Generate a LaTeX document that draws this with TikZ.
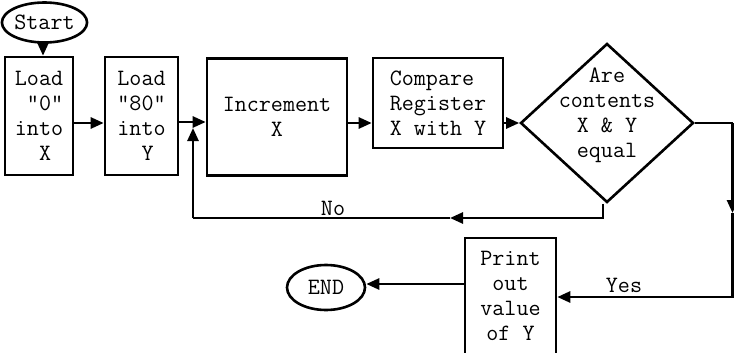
\documentclass[tikz,border=0pt]{standalone}
\usetikzlibrary{shapes.geometric,arrows.meta}

\tikzset{
  flow/.style={line width=2.6pt, -{Triangle[length=13pt,width=11pt]}},
  plain/.style={line width=2.6pt},
  box/.style={draw, line width=2.6pt, inner sep=0pt, font=\ttfamily\fontsize{23.4}{25}\selectfont},
  term/.style={draw, ellipse, line width=2.6pt, inner sep=0pt, font=\ttfamily\fontsize{23.4}{25}\selectfont},
  decision/.style={draw, diamond, line width=2.6pt, inner sep=0pt, minimum width=173pt, minimum height=159pt},
  lbl/.style={font=\ttfamily\fontsize{23.4}{25}\selectfont}
}

\begin{document}
\begin{tikzpicture}[x=1pt,y=-1pt]

\useasboundingbox (0,0) rectangle (734,353);

\node at (44.5,22.5) [term, minimum width=75pt, minimum height=40pt] (start) {Start};

\node at (39,116) [box, minimum width=68pt, minimum height=118pt, align=left] (loadx) {Load\\~"0"\\into\\~~X};
\node at (141.5,116) [box, minimum width=73pt, minimum height=118pt, align=left] (loady) {Load\\"80"\\into\\~~Y};
\node at (277,117) [box, minimum width=140pt, minimum height=117pt, align=center] (incx) {Increment\\X};
\node at (438,103) [box, minimum width=130pt, minimum height=90pt, align=left] (compare) {Compare\\Register\\X with Y};

\node at (607,123) [decision,
  label={[lbl, align=center, yshift=8pt]center:Are\\contents\\X \& Y\\equal}] (equal) {};

\node at (510.5,296) [box, minimum width=91pt, minimum height=116pt, align=center] (print) {Print\\out\\value\\of Y};
\node at (326,287.5) [term, minimum width=78pt, minimum height=45pt] (end) {END};

\coordinate (join) at (193,122);
\coordinate (nocorner) at (193,218);
\coordinate (noarrow) at (450,218);
\coordinate (yescorner) at (732.5,123);
\coordinate (yesarrow) at (732.5,213);
\coordinate (yesbottom) at (732.5,297);

\draw [flow] (start.south -| 43,0) -- (loadx.north -| 43,0);
\draw [flow] (loadx.east |- 0,123) -- (loady.west |- 0,123);
\draw [flow] (loady.east |- join) -- (incx.west |- join);
\draw [flow] (incx.east |- 0,123) -- (compare.west |- 0,123);
\draw [flow] (compare.east |- equal) -- (equal.west);

% no branch
\draw [flow] (equal.south -| 603,0) |- (noarrow);
\draw [plain] (noarrow) -- (nocorner);
\draw [flow] (nocorner) -- ([yshift=-6pt]join);
\node [lbl] at (333,208) (no) {No};

% yes branch
\draw [plain] (equal.east) -- (yescorner);
\draw [flow] (yescorner) -- (yesarrow);
\draw [flow] (yesarrow) -- (yesbottom) -- (print.east |- yesbottom);
\node [lbl] at (624,285) (yes) {Yes};

\draw [flow] (print.west |- 0,284) -- (end.east |- 0,284);

\end{tikzpicture}
\end{document}
